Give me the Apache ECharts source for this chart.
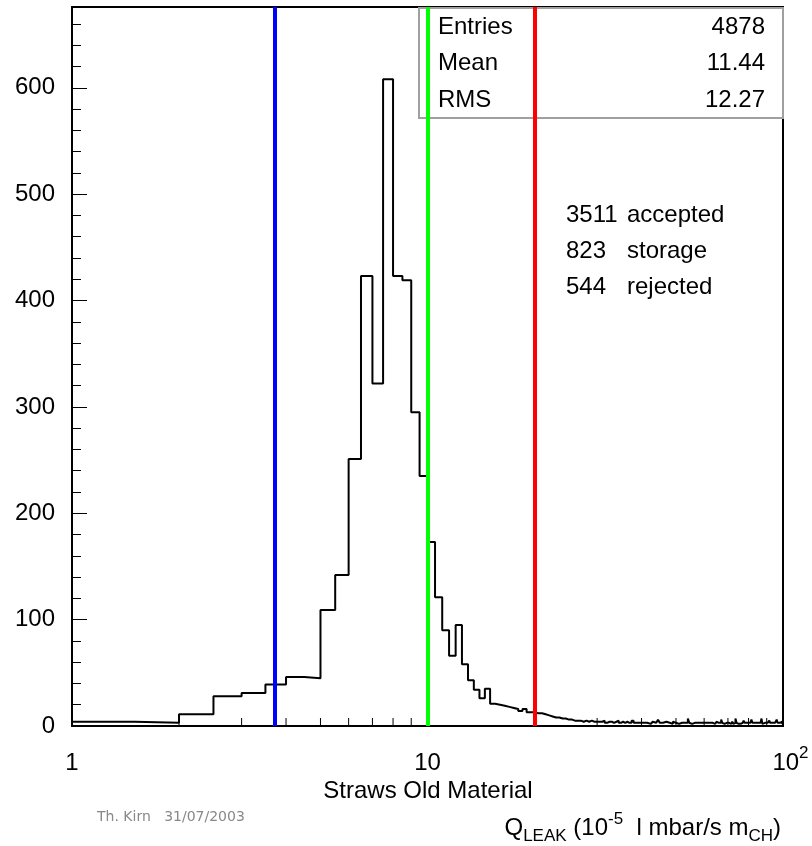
<!DOCTYPE html>
<html>
<head>
<meta charset="utf-8">
<script src="https://cdn.jsdelivr.net/npm/echarts@6/dist/echarts.min.js"></script>
<style>
  html, body { margin: 0; padding: 0; background: #fff; }
  #chart { width: 812px; height: 846px; }
</style>
</head>
<body>
<div id="chart"></div>
<script>
// ---- data ----
const binStart = 1.0;      // lower edge of first bin
const binWidth = 0.5;      // bin width (linear)
// counts per 0.5-wide bin, starting at 1.0
const countsCore = [
  4, 3, 11, 28, 31, 39, 46, 45, 109, 142,      // 1.0 - 6.0
  251, 423, 322, 608, 423, 419, 295, 235,      // 6.0 - 10.0
  173, 121, 90, 66, 95, 58, 43, 34, 26, 35,    // 10.0 - 15.0
  21, 20, 19, 18, 17, 16, 14, 16, 13, 13       // 15.0 - 20.0
];
const countsTail = [
  12, 12, 11, 10, 9, 8, 8, 7, 7, 6,   // 20-25
  6, 5, 5, 5, 4, 5, 4, 5, 4, 4,       // 25-30
  4, 4, 5, 3, 4, 4, 3, 4, 5, 3,       // 30-35
  4, 3, 4, 3, 3, 5, 3, 4, 3, 3,       // 35-40
  3, 4, 3, 3, 2, 3, 4, 3, 3, 6,       // 40-45
  3, 3, 2, 4, 3, 3, 3, 2, 4, 3,       // 45-50
  3, 2, 3, 3, 4, 3, 2, 3, 7, 3,       // 50-55
  2, 3, 3, 2, 3, 4, 3, 2, 3, 3,       // 55-60
  3, 2, 3, 4, 3, 2, 3, 3, 2, 3,       // 60-65
  4, 3, 2, 3, 6, 3, 2, 3, 3, 2,       // 65-70
  3, 3, 2, 3, 4, 2, 3, 7, 3, 2,       // 70-75
  3, 2, 3, 3, 2, 5, 3, 2, 3, 3,       // 75-80
  2, 3, 3, 6, 3, 2, 3, 2, 4, 3,       // 80-85
  3, 2, 3, 3, 7, 2, 3, 3, 2, 3,       // 85-90
  3, 2, 3, 5, 3, 2, 3, 3, 2, 3,       // 90-95
  2, 3, 6, 3, 2, 3, 2, 3, 4, 2        // 95-100
];
const cutBlue = 3.73;
const cutGreen = 10;
const cutRed = 20;
const xMinorTicks = [2, 3, 4, 5, 6, 7, 8, 9, 20, 30, 40, 50, 60, 70, 80, 90];
const yMajorLabels = [0, 100, 200, 300, 400, 500, 600];
const statsLabels = ['Entries', 'Mean', 'RMS'];
const statsValues = ['4878', '11.44', '12.27'];
const countNumbers = ['3511', '823', '544'];
const countWords = ['accepted', 'storage', 'rejected'];

// ---- build histogram step data ----
const counts = countsCore.concat(countsTail);
const histData = counts.map((c, i) => [binStart + i * binWidth, c]);
histData.push([binStart + counts.length * binWidth, counts[counts.length - 1]]);

const FONT = 'Liberation Sans, Arial, sans-serif';
const chart = echarts.init(document.getElementById('chart'), null, { renderer: 'canvas' });

const graphics = [];
// stats box
graphics.push({
  type: 'rect', z: 1,
  shape: { x: 419, y: 8, width: 364, height: 110 },
  style: { fill: '#fff', stroke: '#a0a0a0', lineWidth: 2 }
});
const statsY = [27, 63, 100];
statsLabels.forEach((t, i) => {
  graphics.push({ type: 'text', z: 3, style: { text: t, x: 438, y: statsY[i], fill: '#000', font: '24px ' + FONT, textAlign: 'left', textVerticalAlign: 'middle' } });
  graphics.push({ type: 'text', z: 3, style: { text: statsValues[i], x: 765, y: statsY[i], fill: '#000', font: '24px ' + FONT, textAlign: 'right', textVerticalAlign: 'middle' } });
});
const cntY = [215, 251, 287];
countNumbers.forEach((t, i) => {
  graphics.push({ type: 'text', z: 3, style: { text: t, x: 566, y: cntY[i], fill: '#000', font: '24px ' + FONT, textAlign: 'left', textVerticalAlign: 'middle' } });
  graphics.push({ type: 'text', z: 3, style: { text: countWords[i], x: 627, y: cntY[i], fill: '#000', font: '24px ' + FONT, textAlign: 'left', textVerticalAlign: 'middle' } });
});
// axis title
graphics.push({ type: 'text', z: 3, style: { text: 'Straws Old Material', x: 428, y: 791, fill: '#000', font: '24px ' + FONT, textAlign: 'center', textVerticalAlign: 'middle' } });
// Q_LEAK unit label
graphics.push({
  type: 'text', z: 3,
  style: {
    text: '{m|Q}{sub|LEAK}{m| (10}{sup|-5}{m|  l mbar/s m}{sub|CH}{m|)}',
    x: 781, y: 828, textAlign: 'right', textVerticalAlign: 'middle',
    rich: {
      m: { fontSize: 24, fontFamily: FONT, fill: '#000', lineHeight: 34, verticalAlign: 'middle' },
      sub: { fontSize: 17, fontFamily: FONT, fill: '#000', lineHeight: 34, verticalAlign: 'bottom' },
      sup: { fontSize: 17, fontFamily: FONT, fill: '#000', lineHeight: 34, verticalAlign: 'top' }
    }
  }
});
// author/date
graphics.push({ type: 'text', z: 3, style: { text: 'Th. Kirn   31/07/2003', x: 97, y: 817, fill: '#888888', font: '14px DejaVu Sans, sans-serif', textAlign: 'left', textVerticalAlign: 'middle' } });

const option = {
  animation: false,
  grid: { left: 72, right: 29, top: 7, bottom: 120, show: true, borderColor: '#000', borderWidth: 2, backgroundColor: 'transparent' },
  xAxis: [{
    type: 'log', logBase: 10, min: 1, max: 100,
    axisLine: { show: false },
    axisTick: { show: true, inside: true, length: 15, lineStyle: { color: '#000', width: 1 } },
    splitLine: { show: false },
    minorTick: { show: false },
    axisLabel: {
      margin: 19, color: '#000', fontSize: 24, fontFamily: FONT,
      formatter: function (v) {
        if (Math.abs(v - 100) < 1e-6) return '{p| }{a|10}{s|2}';
        return '{a|' + v + '}';
      },
      rich: {
        a: { fontSize: 24, fontFamily: FONT, color: '#000', lineHeight: 30, verticalAlign: 'bottom' },
        s: { fontSize: 17, fontFamily: FONT, color: '#000', lineHeight: 30, verticalAlign: 'top' },
        p: { width: 15, fontSize: 24, lineHeight: 30 }
      }
    }
  }],
  yAxis: [{
    type: 'value', min: 0, max: 676, interval: 100, position: 'left',
    axisLine: { show: false },
    axisTick: { show: true, inside: true, length: 15, lineStyle: { color: '#000', width: 1 } },
    splitLine: { show: false },
    axisLabel: {
      margin: 17, color: '#000', fontSize: 24, fontFamily: FONT, showMaxLabel: false,
      formatter: function (v) { return yMajorLabels.indexOf(v) >= 0 ? String(v) : ''; }
    }
  }, {
    type: 'value', min: 0, max: 676, interval: 20, position: 'left', offset: 0,
    axisLine: { show: false },
    axisTick: { show: true, inside: true, length: 9, lineStyle: { color: '#000', width: 1 } },
    splitLine: { show: false },
    axisLabel: { show: false }
  }],
  series: [{
    type: 'line', name: 'hist', step: 'end', data: histData,
    xAxisIndex: 0, yAxisIndex: 0,
    symbol: 'none', z: 2,
    lineStyle: { color: '#000', width: 2 },
    markLine: {
      silent: true, symbol: ['none', 'none'], label: { show: false },
      animation: false,
      data: [
        { xAxis: cutBlue, lineStyle: { color: '#0000ff', width: 4, type: 'solid' } },
        { xAxis: cutGreen, lineStyle: { color: '#00ff00', width: 4, type: 'solid' } },
        { xAxis: cutRed, lineStyle: { color: '#ff0000', width: 4, type: 'solid' } }
      ]
    }
  }, {
    type: 'custom', name: 'xminor', xAxisIndex: 0, yAxisIndex: 0,
    data: xMinorTicks.map(v => [v, 0]),
    encode: { x: 0, y: 1 }, clip: false, silent: true, z: 1,
    renderItem: function (params, api) {
      const p = api.coord([api.value(0), api.value(1)]);
      return { type: 'line', shape: { x1: p[0], y1: p[1], x2: p[0], y2: p[1] - 8 }, style: { stroke: '#000', lineWidth: 1 } };
    }
  }],
  graphic: graphics
};
chart.setOption(option);
</script>
</body>
</html>
